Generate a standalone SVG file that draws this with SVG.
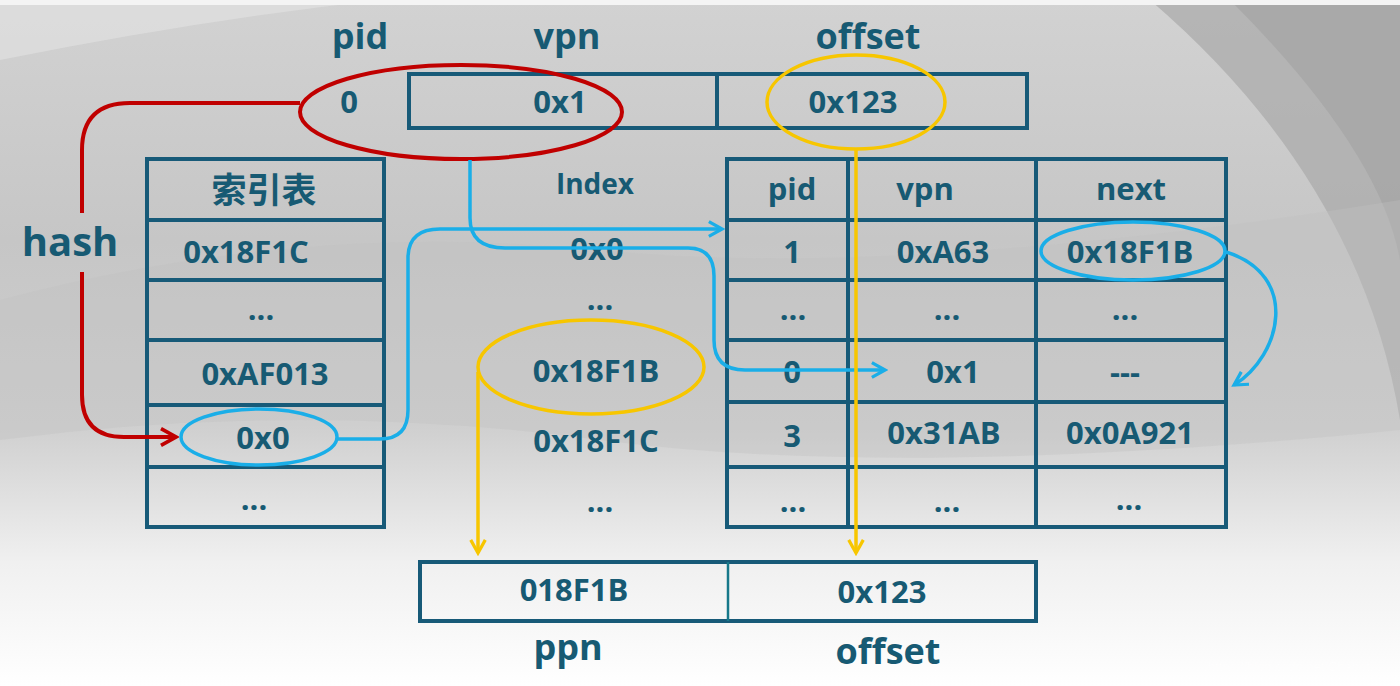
<svg xmlns="http://www.w3.org/2000/svg" width="1400" height="686" viewBox="0 0 1400 686">
<defs>
<linearGradient id="bg" x1="0" y1="0" x2="0" y2="1">
<stop offset="0" stop-color="#d2d2d2"/>
<stop offset="0.35" stop-color="#c6c6c6"/>
<stop offset="0.62" stop-color="#cfcfcf"/>
<stop offset="0.82" stop-color="#f0f0f0"/>
<stop offset="1" stop-color="#ffffff"/>
</linearGradient>
<marker id="arR" viewBox="0 0 12 12" refX="10" refY="6" markerWidth="5" markerHeight="5" orient="auto" markerUnits="strokeWidth">
<path d="M1,1 L10,6 L1,11" fill="none" stroke="#c00000" stroke-width="2.2"/>
</marker>
<marker id="arB" viewBox="0 0 12 12" refX="10" refY="6" markerWidth="5" markerHeight="5" orient="auto" markerUnits="strokeWidth">
<path d="M1,1 L10,6 L1,11" fill="none" stroke="#1aaee8" stroke-width="2.2"/>
</marker>
<marker id="arY" viewBox="0 0 12 12" refX="10" refY="6" markerWidth="5" markerHeight="5" orient="auto" markerUnits="strokeWidth">
<path d="M1,1 L10,6 L1,11" fill="none" stroke="#f7c600" stroke-width="2.2"/>
</marker>
</defs>
<style>
.box{fill:none;stroke:#175a78;stroke-width:4}
.ln{stroke:#175a78;stroke-width:4}
.t{font-family:"Open Sans","Noto Sans",sans-serif;font-weight:700;fill:#175a73;text-anchor:middle;font-size:31px}
.big{font-size:36px}
.cjk{font-family:"Noto Sans CJK SC",sans-serif;font-weight:700;font-size:35px}
.red{fill:none;stroke:#c00000;stroke-width:4}
.blue{fill:none;stroke:#1aaee8;stroke-width:3.5}
.yel{fill:none;stroke:#f7c600;stroke-width:3.5}
</style>
<rect width="1400" height="686" fill="url(#bg)"/>
<path d="M1150,0 Q1360,180 1400,420 V0 Z" fill="#ababab" opacity="0.75"/>
<path d="M1230,0 Q1380,150 1400,260 V0 Z" fill="#a2a2a2" opacity="0.6"/>
<path d="M0,60 Q200,20 380,0 H0 Z" fill="#e2e2e2" opacity="0.6"/>
<path d="M0,300 Q300,220 600,250 Q900,280 1400,200 V430 Q900,480 600,440 Q300,400 0,440 Z" fill="#c0c0c0" opacity="0.35"/>
<rect width="1400" height="5" fill="#f4f4f4"/>

<g id="labels-top">
<text class="t big" x="360" y="49">pid</text>
<text class="t big" x="567" y="49">vpn</text>
<text class="t big" x="868" y="49">offset</text>
</g>

<g id="virtual-address">
<rect class="box" x="409" y="74" width="618" height="54"/>
<line class="ln" x1="717" y1="74" x2="717" y2="128"/>
<text class="t" x="349" y="113">0</text>
<text class="t" x="560" y="113">0x1</text>
<text class="t" x="853" y="113">0x123</text>
</g>

<g id="hash-label">
<text class="t" x="70" y="256" style="font-size:40px">hash</text>
</g>

<g id="index-table">
<rect class="box" x="147" y="159" width="237" height="368"/>
<line class="ln" x1="147" y1="220" x2="384" y2="220"/>
<line class="ln" x1="147" y1="280" x2="384" y2="280"/>
<line class="ln" x1="147" y1="340" x2="384" y2="340"/>
<line class="ln" x1="147" y1="405" x2="384" y2="405"/>
<line class="ln" x1="147" y1="467" x2="384" y2="467"/>
<text class="t cjk" x="264" y="203">索引表</text>
<text class="t" x="246" y="263">0x18F1C</text>
<text class="t" x="261" y="320">...</text>
<text class="t" x="265" y="385">0xAF013</text>
<text class="t" x="263" y="449">0x0</text>
<text class="t" x="254" y="510">...</text>
</g>

<g id="index-column">
<text class="t" x="595" y="194" style="font-size:28px">Index</text>
<text class="t" x="597" y="260">0x0</text>
<text class="t" x="600" y="310">...</text>
<text class="t" x="596" y="382">0x18F1B</text>
<text class="t" x="596" y="452">0x18F1C</text>
<text class="t" x="600" y="512">...</text>
</g>

<g id="page-table">
<rect class="box" x="727" y="159" width="499" height="368"/>
<line class="ln" x1="848" y1="159" x2="848" y2="527"/>
<line class="ln" x1="1036" y1="159" x2="1036" y2="527"/>
<line class="ln" x1="727" y1="220" x2="1226" y2="220"/>
<line class="ln" x1="727" y1="280" x2="1226" y2="280"/>
<line class="ln" x1="727" y1="340" x2="1226" y2="340"/>
<line class="ln" x1="727" y1="402" x2="1226" y2="402"/>
<line class="ln" x1="727" y1="467" x2="1226" y2="467"/>
<text class="t" x="792" y="200">pid</text>
<text class="t" x="925" y="200">vpn</text>
<text class="t" x="1131" y="200">next</text>
<text class="t" x="792" y="263">1</text>
<text class="t" x="943" y="263">0xA63</text>
<text class="t" x="1130" y="263">0x18F1B</text>
<text class="t" x="793" y="320">...</text>
<text class="t" x="947" y="320">...</text>
<text class="t" x="1125" y="320">...</text>
<text class="t" x="792" y="383">0</text>
<text class="t" x="953" y="383">0x1</text>
<text class="t" x="1125" y="383">---</text>
<text class="t" x="792" y="447">3</text>
<text class="t" x="944" y="444">0x31AB</text>
<text class="t" x="1130" y="444">0x0A921</text>
<text class="t" x="793" y="512">...</text>
<text class="t" x="947" y="512">...</text>
<text class="t" x="1129" y="510">...</text>
</g>

<g id="physical-address">
<rect class="box" x="420" y="562" width="616" height="59"/>
<line x1="728" y1="562" x2="728" y2="621" stroke="#17788a" stroke-width="2.5"/>
<text class="t" x="574" y="601">018F1B</text>
<text class="t" x="882" y="603">0x123</text>
<text class="t big" x="568" y="660">ppn</text>
<text class="t big" x="888" y="664">offset</text>
</g>

<g id="highlights">
<ellipse class="red" cx="461" cy="112" rx="161" ry="47"/>
<ellipse class="yel" cx="856" cy="102" rx="89" ry="47"/>
<ellipse class="blue" cx="259" cy="437" rx="78" ry="28"/>
<ellipse class="yel" cx="591" cy="367" rx="113" ry="47"/>
<ellipse class="blue" cx="1133" cy="251" rx="92" ry="29"/>
</g>

<g id="connectors">
<path class="red" d="M300,103 H130 Q82,103 82,150 V213"/>
<path class="red" d="M82,272 V395 Q82,437 124,437 H176" marker-end="url(#arR)"/>
<path class="blue" d="M337,439 H380 Q408,439 408,410 V258 Q408,229 440,229 H722" marker-end="url(#arB)"/>
<path class="blue" d="M470,160 V218 Q470,248 505,248 H688 Q714,248 714,276 V340 Q714,370 745,370 H885" marker-end="url(#arB)"/>
<path class="blue" d="M1226,252 C1300,275 1282,355 1234,385" marker-end="url(#arB)"/>
<path class="yel" d="M478,372 V553" marker-end="url(#arY)"/>
<path class="yel" d="M856,150 V553" marker-end="url(#arY)"/>
</g>

<text x="1208" y="671" style="font-family:'Liberation Sans',sans-serif;font-size:13px;fill:#ffffff;opacity:0.85">https://blog.csdn.net/Chahot</text>
</svg>
